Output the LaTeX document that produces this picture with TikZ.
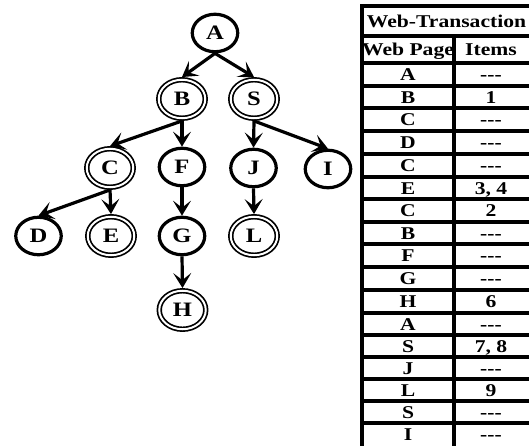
\documentclass[tikz,border=0pt]{standalone}
\usepackage{fontspec}
\setmainfont{Liberation Serif}[FakeStretch=1.2]
\usetikzlibrary{shapes.geometric,arrows.meta}
\newcommand\tdash{{-}{-}{-}}
\begin{document}
\begin{tikzpicture}[x=1pt,y=-1pt,
  lbl/.style={font=\fontsize{18}{20}\selectfont\bfseries},
  nlbl/.style={font=\fontsize{20.5}{22}\selectfont\bfseries},
  sn/.style={ellipse,draw,line width=3.2pt,minimum width=45.5pt,minimum height=37.5pt,inner sep=0pt,outer sep=1.6pt,nlbl},
  dn/.style={ellipse,draw,double,line width=1.7pt,double distance=2pt,minimum width=46.5pt,minimum height=38.5pt,inner sep=0pt,outer sep=2.7pt,nlbl},
  edge/.style={line width=3.2pt,-{Stealth[length=15pt,width=18pt,inset=7pt]}},
  tl/.style={line width=3.1pt},
  cell/.style={lbl,inner sep=0pt,anchor=base}]
\useasboundingbox (0,0) rectangle (529,446);
\clip (0,0) rectangle (529,446);
% tree
\node[sn] (A) at (215,33) {A};
\node[dn] (B) at (182,99) {B};
\node[dn] (S) at (254,99) {S};
\node[dn] (C) at (110,168) {C};
\node[sn] (F) at (182,167) {F};
\node[sn] (J) at (253.5,168) {J};
\node[sn] (I) at (328,169) {I};
\node[sn] (D) at (38.5,236) {D};
\node[dn] (E) at (111,236) {E};
\node[sn] (G) at (182,236) {G};
\node[dn] (L) at (254,236) {L};
\node[dn] (H) at (182.5,310) {H};
\draw[edge] (A.south) -- (B.north);
\draw[edge] (A.south) -- (S.north);
\draw[edge] (B.south) -- (C.north);
\draw[edge] (B.south) -- (F.north);
\draw[edge] (S.south) -- (J.north);
\draw[edge] (S.south) -- (I.north);
\draw[edge] (C.south) -- (D.north);
\draw[edge] (C.south) -- (E.north);
\draw[edge] (F.south) -- (G.north);
\draw[edge] (G.south) -- (H.north);
\draw[edge] (J.south) -- (L.north);
% table
\draw[tl] (362,4.5) -- (362,450);
\draw[tl] (454,36) -- (454,450);
\draw[tl] (535,4.5) -- (535,450);
\foreach \y in {6,36,63,86,108,131,154,177,199,222,244,267,290,313,335,357,379,401,423,450}
  \draw[tl] (360.5,\y) -- (536,\y);
\node[cell] (th) at (446.5,27.5) {Web-Transaction};
\node[cell] (tp) at (408,56) {Web Page};
\node[cell] (ti) at (491,56) {Items};
\foreach \t/\a/\b [count=\k] in {63/A/\tdash,86/B/1,108/C/\tdash,131/D/\tdash,154/C/\tdash,177/E/{3, 4},199/C/2,222/B/\tdash,244/F/\tdash,267/G/\tdash,290/H/6,313/A/\tdash,335/S/{7, 8},357/J/\tdash,379/L/9,401/S/\tdash,423/I/\tdash}{
  \node[cell] (p\k) at (408,\t+17.5) {\a};
  \node[cell] (q\k) at (491,\t+17.5) {\b};
}
\end{tikzpicture}
\end{document}
